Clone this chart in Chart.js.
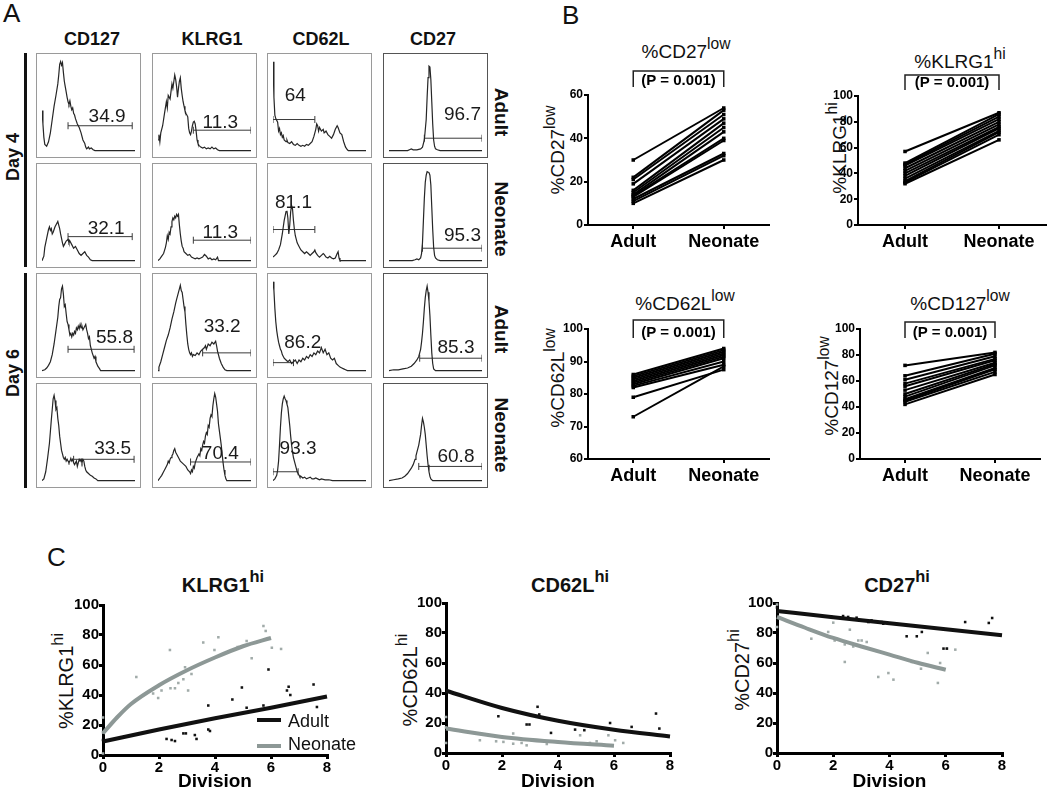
<!DOCTYPE html>
<html lang="en">
<head>
<meta charset="UTF-8" />
<title>Adult vs neonate CD8 T cell phenotype</title>
<script src="https://cdn.jsdelivr.net/npm/chart.js"></script>
<style>
  html, body { margin: 0; padding: 0; background: #fff; overflow: hidden; }
  body { width: 1050px; height: 793px; position: relative; font-family: 'Liberation Sans', Arial, sans-serif; color: #111; }
  .box { position: absolute; }
  .txt { position: absolute; white-space: nowrap; line-height: 1; }
  .ctr { transform: translateX(-50%); }
  .rotl { transform: translate(-50%, -50%) rotate(-90deg); }
  .rotr { transform: translate(-50%, -50%) rotate(90deg); }
  .sup { position: relative; top: -0.6em; font-size: 0.82em; }
  .hist { position: absolute; border: 1px solid #9a9a9a; }
  .hist.dark { border-color: #555; }
  .bar { position: absolute; background: #111; }
  canvas { display: block; }
</style>
</head>
<body>

<!-- panel A text -->
<div class="txt" style="left:3px;top:0;font-size:26px;">A</div>
<div class="txt ctr" style="left:92px;top:30px;font-size:18px;font-weight:bold;">CD127</div>
<div class="txt ctr" style="left:212px;top:30px;font-size:18px;font-weight:bold;">KLRG1</div>
<div class="txt ctr" style="left:321px;top:30px;font-size:18px;font-weight:bold;">CD62L</div>
<div class="txt ctr" style="left:433px;top:30px;font-size:18px;font-weight:bold;">CD27</div>
<div class="txt rotl" style="left:13px;top:157px;font-size:18px;font-weight:bold;">Day 4</div>
<div class="txt rotl" style="left:13px;top:373px;font-size:18px;font-weight:bold;">Day 6</div>
<div class="bar" style="left:24px;top:53px;width:3px;height:214px;"></div>
<div class="bar" style="left:24px;top:273px;width:3px;height:215px;"></div>
<div class="txt rotr" style="left:501px;top:112px;font-size:19px;font-weight:bold;">Adult</div>
<div class="txt rotr" style="left:501px;top:219px;font-size:19px;font-weight:bold;">Neonate</div>
<div class="txt rotr" style="left:501px;top:329px;font-size:19px;font-weight:bold;">Adult</div>
<div class="txt rotr" style="left:501px;top:435px;font-size:19px;font-weight:bold;">Neonate</div>

<!-- panel B text -->
<div class="txt" style="left:562px;top:2px;font-size:26px;">B</div>
<div class="txt ctr" style="left:686px;top:42px;font-size:19px;">%CD27<span class="sup">low</span></div>
<div class="txt ctr" style="left:960px;top:52px;font-size:19px;">%KLRG1<span class="sup">hi</span></div>
<div class="txt ctr" style="left:685px;top:294px;font-size:19px;">%CD62L<span class="sup">low</span></div>
<div class="txt ctr" style="left:960px;top:294px;font-size:19px;">%CD127<span class="sup">low</span></div>
<div class="txt rotl" style="left:557px;top:150px;font-size:19px;">%CD27<span class="sup">low</span></div>
<div class="txt rotl" style="left:839px;top:148px;font-size:19px;">%KLRG1<span class="sup">hi</span></div>
<div class="txt rotl" style="left:557px;top:378px;font-size:19px;">%CD62L<span class="sup">low</span></div>
<div class="txt rotl" style="left:831px;top:386px;font-size:19px;">%CD127<span class="sup">low</span></div>

<!-- panel C text -->
<div class="txt" style="left:47px;top:544px;font-size:26px;">C</div>
<div class="txt ctr" style="left:223px;top:575px;font-size:20px;font-weight:bold;">KLRG1<span class="sup">hi</span></div>
<div class="txt ctr" style="left:570px;top:575px;font-size:20px;font-weight:bold;">CD62L<span class="sup">hi</span></div>
<div class="txt ctr" style="left:897px;top:575px;font-size:20px;font-weight:bold;">CD27<span class="sup">hi</span></div>
<div class="txt rotl" style="left:66px;top:681px;font-size:20px;">%KLRG1<span class="sup">hi</span></div>
<div class="txt rotl" style="left:410px;top:680px;font-size:20px;">%CD62L<span class="sup">hi</span></div>
<div class="txt rotl" style="left:742px;top:670px;font-size:20px;">%CD27<span class="sup">hi</span></div>

<div id="charts"></div>

<!-- legend for C -->
<div class="bar" style="left:257px;top:718px;width:24px;height:4px;background:#111;"></div>
<div class="txt" style="left:288px;top:712px;font-size:18px;">Adult</div>
<div class="bar" style="left:257px;top:744px;width:24px;height:4px;background:#8d9896;"></div>
<div class="txt" style="left:288px;top:735px;font-size:18px;">Neonate</div>

<script>
  // ---------- panel A: histograms, [channel %, count % of max] ----------
  const d4AdultCD127 = [[0,45],[1,30],[2,15],[3,7],[5,5],[7,10],[9,20],[11,35],[13,50],[15,62],[17,75],[18,85],[19,97],[20,100],[21,96],[22,99],[23,88],[24,78],[25,72],[26,66],[27,60],[28,55],[29,52],[30,56],[31,50],[32,46],[33,48],[34,42],[35,40],[36,36],[38,30],[40,26],[42,20],[44,12],[46,8],[47,4],[48,2],[49,3],[50,4],[51,2],[53,3],[55,1],[57,0],[100,0]];
  const d4AdultKLRG1 = [[0,12],[1,18],[2,10],[3,20],[5,28],[7,42],[9,55],[10,48],[11,62],[13,58],[15,75],[16,70],[18,85],[19,80],[20,72],[21,60],[22,70],[23,78],[24,82],[25,70],[26,62],[27,55],[28,50],[29,45],[30,42],[31,40],[32,38],[33,25],[34,20],[35,18],[36,22],[37,28],[38,32],[39,33],[40,30],[41,22],[42,12],[43,8],[44,6],[46,4],[48,3],[50,4],[52,2],[54,3],[56,2],[58,4],[60,2],[62,3],[64,1],[66,0],[100,0]];
  const d4AdultCD62L = [[0,100],[1,60],[2,40],[3,36],[5,32],[6,22],[7,25],[8,18],[9,20],[10,15],[11,17],[12,12],[14,10],[15,12],[16,9],[18,8],[20,10],[22,7],[24,6],[26,8],[28,6],[30,5],[32,6],[34,5],[36,7],[38,6],[40,8],[42,10],[44,16],[46,24],[47,30],[48,28],[49,22],[50,26],[52,22],[54,24],[55,20],[57,22],[59,18],[61,16],[63,14],[65,18],[67,24],[69,28],[70,26],[72,20],[74,18],[76,10],[78,4],[80,1],[81,0],[100,0]];
  const d4AdultCD27 = [[0,0],[20,0],[22,1],[24,2],[26,1],[30,1],[34,2],[36,4],[38,12],[40,35],[41,60],[42,82],[43,95],[44,94],[45,80],[46,55],[47,30],[48,12],[49,5],[50,2],[52,1],[55,0],[100,0]];
  const d4NeoCD127 = [[0,0],[2,5],[3,15],[5,25],[7,35],[8,38],[9,34],[10,36],[11,30],[12,32],[14,38],[16,42],[17,44],[18,40],[19,36],[20,30],[22,20],[23,16],[24,18],[26,22],[28,24],[29,20],[30,22],[32,18],[34,14],[36,16],[38,12],[40,8],[42,6],[44,8],[46,10],[48,6],[50,4],[52,1],[54,0],[100,0]];
  const d4NeoKLRG1 = [[0,0],[2,2],[4,5],[6,8],[8,15],[9,20],[10,28],[11,24],[12,32],[13,30],[14,38],[15,44],[16,48],[17,46],[18,50],[19,48],[20,52],[21,50],[22,52],[23,40],[24,30],[25,22],[26,16],[27,14],[28,10],[30,8],[32,6],[34,7],[36,4],[38,3],[40,2],[42,3],[44,2],[46,3],[48,4],[50,7],[52,5],[54,2],[56,3],[58,1],[60,2],[62,1],[64,4],[65,0],[100,0]];
  const d4NeoCD62L = [[0,4],[2,6],[4,8],[6,12],[8,18],[10,30],[12,45],[14,55],[15,56],[16,48],[17,30],[18,40],[19,55],[20,62],[21,58],[22,45],[23,35],[24,28],[26,20],[28,16],[30,12],[32,10],[34,8],[36,10],[38,8],[40,6],[42,8],[44,10],[45,12],[46,9],[48,6],[50,4],[52,6],[54,8],[55,7],[57,4],[59,3],[61,5],[63,3],[65,2],[67,3],[69,8],[70,10],[71,3],[72,0],[100,0]];
  const d4NeoCD27 = [[0,0],[25,0],[28,1],[30,2],[32,1],[34,3],[35,8],[36,20],[37,45],[38,70],[39,88],[40,96],[41,100],[43,99],[44,96],[45,85],[46,60],[47,35],[48,15],[49,6],[50,3],[52,1],[55,0],[100,0]];
  const d6AdultCD127 = [[0,0],[3,1],[5,3],[7,6],[9,10],[11,18],[13,30],[15,45],[17,60],[18,72],[19,80],[20,82],[21,92],[22,95],[23,86],[24,72],[25,74],[26,64],[27,55],[28,52],[29,46],[30,40],[31,42],[32,38],[33,42],[34,40],[35,44],[36,42],[37,48],[38,46],[39,50],[40,47],[41,52],[42,48],[43,50],[44,46],[45,48],[46,50],[47,52],[48,46],[49,42],[50,36],[51,38],[52,28],[54,20],[56,14],[57,16],[58,10],[60,5],[62,2],[63,0],[100,0]];
  const d6AdultKLRG1 = [[0,0],[1,4],[3,10],[5,18],[7,26],[9,34],[11,40],[13,48],[15,58],[17,66],[19,76],[20,80],[21,84],[22,88],[23,92],[24,96],[25,90],[26,88],[27,80],[28,72],[29,66],[30,52],[31,40],[32,30],[33,24],[34,20],[35,18],[36,20],[37,16],[38,18],[40,17],[42,20],[44,18],[46,22],[48,24],[50,26],[51,28],[52,24],[54,30],[56,28],[58,32],[60,30],[62,33],[63,28],[64,22],[66,14],[68,8],[70,4],[72,1],[74,0],[100,0]];
  const d6AdultCD62L = [[0,100],[1,90],[2,70],[3,55],[4,45],[5,38],[6,32],[7,28],[8,24],[9,22],[10,18],[12,14],[14,12],[16,10],[18,12],[20,8],[22,10],[24,12],[26,8],[28,12],[30,10],[32,14],[34,12],[36,16],[38,14],[40,18],[42,16],[44,20],[46,18],[48,22],[50,20],[52,26],[54,20],[56,24],[58,18],[60,20],[62,14],[64,12],[66,14],[68,8],[70,6],[72,4],[74,3],[76,2],[78,1],[80,0],[100,0]];
  const d6AdultCD27 = [[0,0],[5,1],[10,1],[15,2],[20,3],[24,5],[27,8],[30,12],[32,16],[34,24],[35,32],[36,42],[37,55],[38,70],[39,82],[40,90],[41,95],[42,88],[43,78],[44,62],[45,40],[46,20],[47,8],[48,2],[50,0],[100,0]];
  const d6NeoCD127 = [[0,0],[2,2],[4,10],[6,25],[8,42],[9,55],[10,68],[11,80],[12,92],[13,96],[14,90],[15,80],[16,82],[17,70],[18,62],[19,50],[20,42],[21,34],[22,30],[23,26],[24,24],[25,26],[26,22],[27,24],[28,22],[29,20],[30,22],[31,25],[32,22],[33,24],[34,20],[35,18],[36,20],[37,22],[38,16],[39,20],[40,24],[41,22],[42,24],[43,20],[44,24],[45,22],[46,16],[47,12],[48,10],[50,8],[52,6],[54,5],[56,3],[58,2],[60,0],[100,0]];
  const d6NeoKLRG1 = [[0,0],[2,3],[4,6],[6,10],[8,14],[10,18],[11,22],[12,20],[13,24],[14,26],[15,28],[16,30],[17,34],[18,36],[19,32],[20,30],[21,28],[22,26],[24,22],[26,20],[28,18],[30,16],[32,12],[34,10],[35,8],[36,12],[37,10],[38,16],[39,14],[40,20],[42,26],[44,30],[45,28],[46,36],[47,34],[48,40],[49,44],[50,42],[51,50],[52,54],[53,52],[54,62],[55,60],[56,70],[57,74],[58,72],[59,84],[60,92],[61,98],[62,94],[63,86],[64,78],[65,64],[66,56],[67,48],[68,40],[69,30],[70,20],[71,12],[72,6],[73,2],[74,0],[100,0]];
  const d6NeoCD62L = [[0,0],[2,2],[4,6],[5,12],[6,22],[7,40],[8,60],[9,76],[10,86],[11,92],[12,95],[13,92],[14,90],[15,86],[16,82],[17,72],[18,62],[19,50],[20,40],[21,32],[22,26],[23,22],[24,18],[25,14],[26,10],[27,8],[28,6],[29,4],[30,5],[32,3],[34,4],[36,2],[38,3],[40,4],[42,2],[44,2],[46,3],[48,2],[50,1],[52,2],[56,1],[60,1],[64,0],[100,0]];
  const d6NeoCD27 = [[0,0],[5,1],[10,2],[14,3],[17,5],[20,8],[22,11],[24,14],[26,18],[28,24],[29,28],[30,32],[31,36],[32,40],[33,46],[34,52],[35,62],[36,70],[37,66],[38,60],[39,52],[40,40],[41,28],[42,18],[43,10],[44,5],[45,2],[47,0],[100,0]];

  const histRows = [
    [d4AdultCD127, d4AdultKLRG1, d4AdultCD62L, d4AdultCD27],
    [d4NeoCD127, d4NeoKLRG1, d4NeoCD62L, d4NeoCD27],
    [d6AdultCD127, d6AdultKLRG1, d6AdultCD62L, d6AdultCD27],
    [d6NeoCD127, d6NeoKLRG1, d6NeoCD62L, d6NeoCD27]
  ];
  // gate [from, to, level] in channel / count %
  const gateRanges = [
    [[28,97,28],[38,100,23],[0,45,35],[38,100,14]],
    [[28,97,27],[38,100,23],[0,45,35],[36,100,14]],
    [[28,99,24],[48,100,20],[0,22,9],[33,100,14]],
    [[34,99,24],[35,100,21],[0,27,10],[32,100,16]]
  ];
  const gateValues = [
    ['34.9','11.3','64','96.7'],
    ['32.1','11.3','81.1','95.3'],
    ['55.8','33.2','86.2','85.3'],
    ['33.5','70.4','93.3','60.8']
  ];

  // ---------- panel B: paired adult / neonate ----------
  const groups = ['Adult', 'Neonate'];
  const cd27LowAdult = [30, 22, 21, 19, 16, 15, 14, 13.5, 13, 12, 11, 10];
  const cd27LowNeo   = [54, 53, 51, 49, 47, 45, 43, 40, 39, 33, 32, 30];
  const klrgHiAdult  = [57, 48, 47, 46, 44, 42, 40, 38, 36, 34, 33, 32];
  const klrgHiNeo    = [87, 86, 84, 82, 80, 78, 76, 75, 73, 72, 70, 66];
  const cd62LowAdult = [86, 85.5, 85, 84.5, 84, 83.5, 83, 82.5, 82, 79, 73];
  const cd62LowNeo   = [94, 93.5, 93, 92.5, 92, 91.5, 91, 90, 89, 87.5, 88.5];
  const cd127LowAdult = [72, 64, 61, 58, 56, 53, 50, 48, 46, 45, 44, 42];
  const cd127LowNeo   = [82, 81, 79, 77, 76, 74, 73, 72, 70, 69, 67, 65];
  const pValues = ['0.001', '0.001', '0.001', '0.001'];

  // ---------- panel C: % vs division ----------
  const divisionTicks = [0, 2, 4, 6, 8];
  const klrgAdultPts = [[0,10],[2.27,10.7],[2.45,10],[2.57,9.3],[2.87,14.4],[2.96,14.4],[3.28,13.3],[3.34,10.7],[3.76,33],[3.76,17],[3.82,16],[4.62,37],[4.96,45],[5.13,31.5],[5.73,33],[5.91,57],[6.57,43],[6.63,45.5],[6.69,40],[7.52,47],[7.64,32]];
  const klrgNeoPts = [[0,25],[0,15],[0,1],[1.19,52],[1.79,41],[1.97,38],[2.09,43],[2.39,70],[2.41,44.5],[2.57,44.5],[2.69,48],[2.87,50.5],[2.93,58.5],[3.04,43],[3.16,54],[3.58,75],[3.98,70],[4.12,78.5],[4.81,72],[5.13,76],[5.31,64.5],[5.73,86],[5.81,82.7],[6.03,71.5],[6.36,70.7]];
  const klrgAdultFit = [[0,9],[2,17],[4,24.5],[6,31.5],[8,39]];
  const klrgNeoFit = [[0,14.5],[0.5,25],[1,34],[2,46.5],[3,56.5],[4,65],[5,72.5],[6,78]];
  const cd62AdultPts = [[1.87,24.5],[2.52,27.5],[2.88,19],[2.98,19],[3.27,30.8],[3.33,25.7],[3.75,22.3],[3.75,13.4],[4.61,15.6],[4.94,15.2],[5.86,20],[6.63,17.4],[7.5,26.3],[7.62,16.3]];
  const cd62NeoPts = [[0,24],[0,17],[0,6.7],[1.21,8.5],[1.79,7.8],[2.05,7.4],[2.4,13],[2.4,6.2],[2.7,6.7],[2.88,5.1],[3.06,8.5],[3.6,6],[3.95,7.4],[4.79,11.8],[5.14,6.7],[5.38,7.8],[5.8,11.8],[6.04,8.5],[6.33,6.7]];
  const cd62AdultFit = [[0,41.5],[2,30],[4,21.5],[6,15.5],[8,11]];
  const cd62NeoFit = [[0,16.3],[2,10.7],[4,7.3],[6,4.8]];
  const cd27AdultPts = [[0,97],[1.94,90.7],[2.24,90.2],[2.35,91.3],[2.53,90.7],[2.83,90.2],[3.25,87.3],[3.36,88.4],[3.72,87.3],[3.78,86.2],[4.61,77.8],[4.97,77.8],[5.15,80.7],[5.68,83],[5.92,69.6],[6.04,69.6],[6.69,87.3],[7.53,86.7],[7.65,90]];
  const cd27NeoPts = [[0,99],[0,84],[1.22,76.2],[1.82,80.7],[2.0,86.9],[2.05,75],[2.41,60.7],[2.41,72.4],[2.59,82.2],[2.71,71],[2.89,75],[3.01,75],[3.19,74],[3.6,50.7],[3.96,53.3],[4.14,48.9],[4.79,60.7],[5.12,56.2],[5.36,66.7],[5.72,46.7],[5.8,60],[6.04,69.6],[6.34,68.9]];
  const cd27AdultFit = [[0,94.7],[2,90.5],[4,86.5],[6,82.5],[8,78.5]];
  const cd27NeoFit = [[0,90.7],[1,83.5],[2,76.7],[3,71],[4,65.6],[5,60.2],[6,55.5]];

  // ---------- layout ----------
  const FONT = "'Liberation Sans', Arial, sans-serif";
  Chart.defaults.font.family = FONT;
  Chart.defaults.color = '#000';
  Chart.defaults.animation = false;

  const holder = document.getElementById('charts');
  function makeCanvas(left, top, w, h, cls) {
    const wrap = document.createElement('div');
    wrap.className = cls || 'box';
    wrap.style.left = left + 'px';
    wrap.style.top = top + 'px';
    const c = document.createElement('canvas');
    c.width = w; c.height = h;
    c.style.width = w + 'px'; c.style.height = h + 'px';
    wrap.appendChild(c);
    holder.appendChild(wrap);
    return c;
  }
  const xy = arr => arr.map(([x, y]) => ({ x, y }));

  // gate number written on each histogram
  const gateLabel = {
    id: 'gateLabel',
    afterDatasetsDraw(chart, args, o) {
      const ctx = chart.ctx;
      ctx.save();
      ctx.font = '19px ' + FONT;
      ctx.fillStyle = '#1a1a1a';
      ctx.textAlign = 'center';
      ctx.textBaseline = 'alphabetic';
      ctx.fillText(o.text, chart.scales.x.getPixelForValue(o.x), chart.scales.y.getPixelForValue(o.y));
      ctx.restore();
    }
  };
  const gateLabelAt = [
    [[70,32],[67,26],[24,56],[79,35]],
    [[69,30],[67,25],[22,59],[79,22]],
    [[78,31],[69,43],[32,26],[72,20]],
    [[76,30],[67,24],[27,30],[72,21]]
  ];
  const colLeft = [36, 152, 267, 383];
  const rowTop = [53, 163, 273, 383];

  histRows.forEach((row, r) => {
    row.forEach((curve, c) => {
      const g = gateRanges[r][c];
      const cv = makeCanvas(colLeft[c], rowTop[r], 103, 103, c === 3 ? 'hist dark' : 'hist');
      new Chart(cv, {
        type: 'line',
        data: {
          datasets: [
            { data: xy(curve), borderColor: '#262626', borderWidth: 1.2, pointRadius: 0, tension: 0 },
            { data: [{ x: g[0], y: g[2] }, { x: g[1], y: g[2] }], borderColor: '#3a3a3a', borderWidth: 1,
              pointStyle: 'line', rotation: 90, pointRadius: 3.5, pointBorderColor: '#3a3a3a', pointBorderWidth: 1 }
          ]
        },
        options: {
          responsive: false, events: [],
          layout: { padding: 0 },
          scales: {
            x: { type: 'linear', min: 0, max: 100, display: false },
            y: { min: -1.5, max: 103, display: false }
          },
          plugins: {
            legend: { display: false }, tooltip: { enabled: false },
            gateLabel: { text: gateValues[r][c], x: gateLabelAt[r][c][0], y: gateLabelAt[r][c][1] }
          }
        },
        plugins: [gateLabel]
      });
    });
  });

  // significance bracket over the two groups
  const bracket = {
    id: 'bracket',
    afterDraw(chart, args, o) {
      const ctx = chart.ctx, xs = chart.scales.x, t = chart.chartArea.top;
      const x1 = xs.getPixelForValue(0), x2 = xs.getPixelForValue(1);
      ctx.save();
      ctx.strokeStyle = '#222';
      ctx.lineWidth = 1.5;
      ctx.beginPath();
      ctx.moveTo(x1, t + o.leg); ctx.lineTo(x1, t + o.top); ctx.lineTo(x2, t + o.top); ctx.lineTo(x2, t + o.leg);
      ctx.stroke();
      ctx.font = 'bold 15px ' + FONT;
      ctx.fillStyle = '#000';
      ctx.textAlign = 'center';
      ctx.textBaseline = 'middle';
      ctx.fillText('(P = ' + o.p + ')', (x1 + x2) / 2, t + o.text);
      ctx.restore();
    }
  };

  function pairChart(cv, adult, neo, yMin, yMax, step, rightPad, br) {
    const axisGrid = { drawOnChartArea: false, color: '#000', lineWidth: 2, tickLength: 4 };
    new Chart(cv, {
      type: 'line',
      data: {
        labels: groups,
        datasets: adult.map((a, i) => ({
          data: [a, neo[i]], borderColor: '#000', backgroundColor: '#000', borderWidth: 2,
          pointRadius: 2.5, pointStyle: 'rect', pointBorderWidth: 0
        }))
      },
      options: {
        responsive: false, events: [],
        layout: { padding: { top: 35, right: rightPad } },
        scales: {
          x: {
            offset: true, grid: axisGrid, border: { color: '#000', width: 2 },
            ticks: { font: { size: 18, weight: 'bold' }, padding: 2 },
            afterFit(s) { s.height = 35; }
          },
          y: {
            min: yMin, max: yMax, grid: axisGrid, border: { color: '#000', width: 2 },
            ticks: { stepSize: step, font: { size: 12, weight: 'bold' }, padding: 1 },
            afterFit(s) { s.width = 48; }
          }
        },
        plugins: { legend: { display: false }, tooltip: { enabled: false }, bracket: br }
      },
      plugins: [bracket]
    });
  }

  pairChart(makeCanvas(540, 60, 240, 200), cd27LowAdult, cd27LowNeo, 0, 60, 20, 11,
    { top: -24, leg: -8, text: -14, p: pValues[0] });
  pairChart(makeCanvas(810, 61, 240, 199), klrgHiAdult, klrgHiNeo, 0, 100, 20, 4,
    { top: -21, leg: -6, text: -13, p: pValues[1] });
  pairChart(makeCanvas(540, 294, 240, 200), cd62LowAdult, cd62LowNeo, 60, 100, 10, 11,
    { top: -9, leg: 9, text: 4, p: pValues[2] });
  pairChart(makeCanvas(812, 294, 238, 200), cd127LowAdult, cd127LowNeo, 0, 100, 20, 10,
    { top: -7, leg: 9, text: 4, p: pValues[3] });

  function divisionChart(cv, adultPts, neoPts, adultFit, neoFit, xHeight) {
    const axisGrid = { drawOnChartArea: false, color: '#000', lineWidth: 3, tickLength: 4 };
    const fitLine = (d, color) => ({ data: xy(d), showLine: true, borderColor: color, borderWidth: 4,
      pointRadius: 0, tension: 0.4, cubicInterpolationMode: 'monotone', clip: 4 });
    const dots = (d, color) => ({ data: xy(d), pointStyle: 'rect', pointRadius: 1.8,
      backgroundColor: color, pointBorderWidth: 0, clip: false });
    new Chart(cv, {
      type: 'scatter',
      data: {
        datasets: [
          fitLine(adultFit, '#111'),
          fitLine(neoFit, '#8d9896'),
          dots(adultPts, '#111'),
          dots(neoPts, '#a1aba9')
        ]
      },
      options: {
        responsive: false, events: [],
        layout: { padding: { top: 15, right: 13 } },
        scales: {
          x: {
            type: 'linear', min: divisionTicks[0], max: divisionTicks[divisionTicks.length - 1],
            grid: axisGrid, border: { color: '#000', width: 3 },
            ticks: { stepSize: 2, font: { size: 15, weight: 'bold' }, padding: 0 },
            title: { display: true, text: 'Division', font: { size: 19, weight: 'bold' }, padding: 0 },
            afterFit(s) { s.height = xHeight; }
          },
          y: {
            min: 0, max: 100, grid: axisGrid, border: { color: '#000', width: 3 },
            ticks: { stepSize: 20, font: { size: 15, weight: 'bold' }, padding: 0 },
            afterFit(s) { s.width = 63; }
          }
        },
        plugins: { legend: { display: false }, tooltip: { enabled: false } }
      }
    });
  }

  divisionChart(makeCanvas(40, 590, 300, 203), klrgAdultPts, klrgNeoPts, klrgAdultFit, klrgNeoFit, 38);
  divisionChart(makeCanvas(383, 588, 300, 205), cd62AdultPts, cd62NeoPts, cd62AdultFit, cd62NeoFit, 40);
  divisionChart(makeCanvas(714, 588, 301, 205), cd27AdultPts, cd27NeoPts, cd27AdultFit, cd27NeoFit, 40);
</script>
</body>
</html>
